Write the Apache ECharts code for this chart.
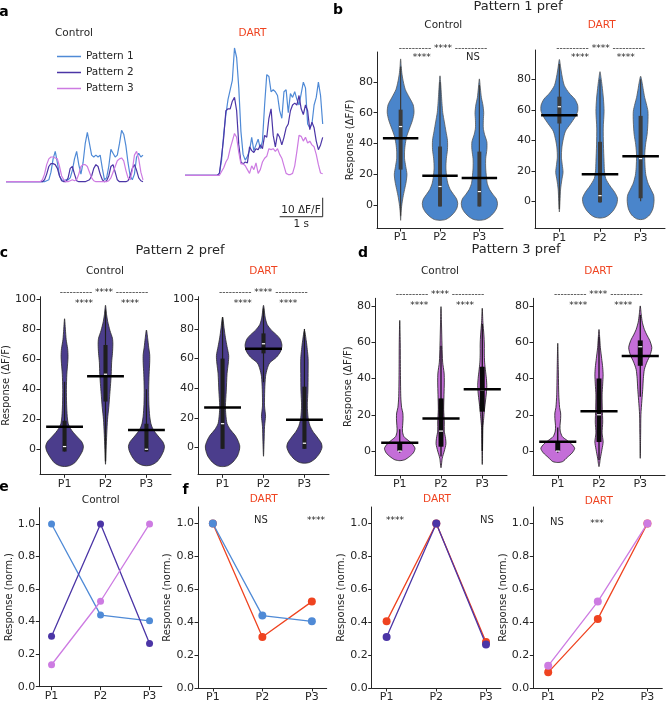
<!DOCTYPE html>
<html>
<head>
<meta charset="utf-8">
<title>Pattern preference</title>
<script src="https://cdn.jsdelivr.net/npm/echarts@6.0.0/dist/echarts.min.js"></script>
<style>
  html, body { margin: 0; padding: 0; background: #fff; }
  #chart { width: 668px; height: 701px; }
</style>
</head>
<body>
<div id="chart"></div>
<script>
// ---------- values ----------
const cats = ['P1', 'P2', 'P3']
const traceStep = 0.05 // seconds per sample in panel a

// panel a: example traces (ΔF/F)
const ctrlP1 = [0,0,0,0,0,0,0,0,0,0,0,0,0,0,0,0,0,0,0,0.5,1,5,12,16,10,3,1,0.5,1,1,2,6,12,16,9,4,10,20,26,20,14,13,14,13,14,7,1,2,8,17,15,13,14,20,27,25,19,10,3,1,4,13,15,13,14]
const ctrlP2 = [0,0,0,0,0,0,0,0,0,0,0,0,0,0,0,0,0,0,1,4,8,9.5,9.5,9,7,3,0.5,0,0,2,7,8,4,0.5,0,0,0,0,0.5,1,3,7,9,8,4,1,0,0.5,3,8,9,5,1,0,0,0,0,0.5,3,7,9,6,2,0.5,0]
const ctrlP3 = [0,0,0,0,0,0,0,0,0,0,0,0,0,0,0,0,0,1,4,9,12,13,13,12.5,12,8,3,1,0,0,0.5,1,0.5,1,4,8,9,9,8,5,2,0.5,0,0,0,0,0,0,0.5,2,5,8,11,12,12.5,11,6,2,1,6,14,16,12,5,1]
const dartP1 = [0,0,0,0,0,0,0,0,0,0,0,0,0,0,0,0,1,8,22,32,40,45,50,67,62,46,23,11,8,10,13,20,13,16,19,14,18,37,53,52,44,45,44,42,34,30,44,45,33,43,41,44,40,37,43,49,46,27,25,27,37,41,49,42,27]
const dartP2 = [0,0,0,0,0,0,0,0,0,0,0,0,0,0,0,0,1,10,20,34,35,35,39,41,34,16,7,6,7,6.5,15,13,12,14,13.5,16,14,21,20,30,35,21,15,22,20,16,20,25,27,34,37,38,37,42,35,32,37,34,24,28,25,18,13.5,16,20]
const dartP3 = [0,0,0,0,0,0,0,0,0,0,0,0,0,0,0,0,0,2,4,7,9,14,18,22,20,12,6,6,5,3,1,5,3,6.5,1,3,7,9,10,14,13.5,14,12.6,14,11,9,5,1,0.4,0.4,1,5,12.6,21,20.5,18,20,17,18,16,15,11,5.6,1.2,0.8]
const scaleSec = 1
const scaleDff = 10

// violin outlines: [response, half width in category units], bottom to top
const pref1CtrlShape = [
  [[-10,0],[-5,0.01],[0,0.03],[5,0.06],[10,0.1],[15,0.14],[20,0.16],[25,0.13],[30,0.1],[35,0.1],[40,0.12],[45,0.16],[50,0.23],[55,0.3],[60,0.34],[65,0.32],[70,0.22],[75,0.12],[80,0.07],[85,0.035],[90,0.015],[95,0]],
  [[-10,0],[-9.5,0.14],[-8,0.24],[-5,0.36],[-2,0.43],[1,0.45],[4,0.42],[7,0.34],[10,0.26],[14,0.2],[18,0.17],[24,0.15],[30,0.16],[36,0.19],[42,0.19],[48,0.15],[54,0.11],[60,0.07],[66,0.05],[72,0.035],[78,0.02],[84,0]],
  [[-10,0],[-9.5,0.14],[-8,0.25],[-5,0.37],[-2,0.44],[1,0.46],[4,0.43],[7,0.34],[10,0.26],[14,0.2],[18,0.18],[24,0.16],[30,0.16],[36,0.19],[41,0.19],[46,0.13],[50,0.1],[55,0.1],[60,0.11],[65,0.09],[70,0.05],[76,0.025],[82,0]]
]
const pref1DartShape = [
  [[-7,0],[0,0.015],[8,0.03],[14,0.06],[19,0.09],[24,0.07],[29,0.05],[35,0.06],[40,0.09],[46,0.15],[51,0.28],[55,0.38],[59,0.45],[63,0.45],[67,0.38],[71,0.24],[76,0.12],[83,0.06],[88,0.03],[93,0]],
  [[-11,0],[-10.5,0.12],[-9,0.22],[-6,0.33],[-2,0.41],[2,0.43],[6,0.36],[10,0.25],[15,0.14],[20,0.11],[26,0.1],[37,0.085],[48,0.08],[59,0.1],[67,0.085],[76,0.05],[81,0.025],[85,0]],
  [[-12,0],[-11.5,0.1],[-9,0.22],[-5,0.3],[0,0.33],[4,0.32],[8,0.25],[12,0.18],[17,0.13],[22,0.11],[30,0.1],[37,0.12],[44,0.16],[52,0.18],[59,0.18],[64,0.14],[68,0.1],[74,0.06],[78,0.035],[82,0]]
]
const pref2CtrlShape = [
  [[-11.5,0],[-11,0.12],[-9,0.25],[-5,0.36],[-1,0.44],[2,0.46],[5,0.42],[8,0.32],[11,0.22],[14,0.14],[17,0.09],[22,0.065],[30,0.05],[40,0.045],[50,0.055],[57,0.075],[62,0.085],[67,0.075],[73,0.04],[80,0.02],[87,0]],
  [[-10,0],[0,0.015],[10,0.03],[20,0.05],[28,0.08],[35,0.1],[42,0.12],[50,0.14],[58,0.15],[64,0.17],[70,0.18],[74,0.17],[79,0.11],[85,0.055],[90,0.025],[96,0]],
  [[-11,0],[-10.5,0.12],[-8.5,0.25],[-5,0.35],[-1,0.42],[2,0.44],[5,0.4],[8,0.31],[11,0.22],[14,0.15],[17,0.11],[22,0.08],[30,0.06],[40,0.055],[50,0.065],[58,0.08],[63,0.08],[68,0.055],[74,0.03],[79.5,0]]
]
const pref2DartShape = [
  [[-13,0],[-12.5,0.12],[-10,0.25],[-6,0.36],[-2,0.41],[1,0.42],[5,0.37],[8,0.31],[12,0.19],[16,0.11],[22,0.08],[28,0.07],[38,0.09],[50,0.11],[57,0.14],[62,0.15],[68,0.11],[74,0.07],[80,0.04],[88,0]],
  [[-6,0],[5,0.015],[14,0.025],[18,0.04],[21,0.05],[24,0.04],[28,0.025],[39,0.03],[48,0.05],[53,0.09],[57,0.15],[61,0.32],[65,0.42],[69,0.45],[73,0.41],[76,0.32],[79,0.2],[83,0.09],[88,0.04],[96,0]],
  [[-10.7,0],[-10.2,0.12],[-8,0.25],[-4,0.37],[0,0.43],[3,0.41],[7,0.31],[11,0.2],[15,0.13],[20,0.09],[28,0.07],[38,0.085],[50,0.09],[60,0.09],[66,0.07],[72,0.045],[79,0]]
]
const pref3CtrlShape = [
  [[-5.3,0],[-4.8,0.12],[-3,0.24],[-1,0.33],[1.5,0.37],[4,0.3],[6,0.2],[8,0.1],[11,0.065],[14,0.07],[18,0.08],[21,0.075],[24,0.045],[30,0.025],[45,0.016],[60,0.012],[72,0]],
  [[-9.2,0],[-4,0.03],[0,0.08],[4,0.12],[7,0.11],[11,0.08],[16,0.08],[23,0.065],[31,0.073],[38,0.08],[43,0.075],[49,0.04],[58,0.025],[70,0.012],[79.6,0]],
  [[-7.4,0],[5,0.01],[13,0.016],[18,0.035],[22,0.05],[27,0.075],[32,0.1],[36,0.11],[40,0.1],[44,0.08],[49,0.057],[54,0.05],[59,0.05],[64,0.04],[71,0.016],[78.7,0]]
]
const pref3DartShape = [
  [[-6.3,0],[-5.8,0.12],[-3.5,0.23],[-1,0.35],[1.5,0.41],[4,0.33],[6,0.22],[8,0.11],[11,0.06],[14,0.055],[18,0.07],[21,0.07],[24,0.045],[31,0.025],[45,0.014],[59.4,0]],
  [[-8.6,0],[-4,0.033],[1,0.073],[5,0.1],[10,0.075],[16,0.09],[23,0.08],[31,0.075],[37,0.09],[42,0.1],[46,0.09],[51,0.065],[57,0.033],[62,0.018],[67,0]],
  [[-4,0],[10,0.01],[20,0.016],[28,0.04],[34,0.06],[40,0.075],[45,0.1],[49,0.16],[53,0.24],[57,0.28],[61,0.23],[64,0.16],[67,0.1],[71,0.05],[75,0.025],[80,0]]
]

// inner box: [whisker low, q1, median, q3, whisker high]
const pref1CtrlBox = [[-7,23,51,62,90],[-1,-1,12,38,80],[-1,-1,8.7,34.7,78]]
const pref1DartBox = [[-5,51,62,68.6,90],[-1,-0.7,3.7,39,80],[0,2,28,56,80]]
const pref2CtrlBox = [[-1.5,-1.5,1.8,19,45],[-8,31.8,50,69.5,93],[-1.5,-1.5,0,17,40]]
const pref2DartBox = [[-1,-1,16,60,88],[44,63.5,70,77,94],[-1,-1,2.8,41,80]]
const pref3CtrlBox = [[-1,0,0,5,12],[-3,2.4,11,29,58],[0,21.7,33.7,46.5,70]]
const pref3DartBox = [[-1,0,0,5.5,13],[-5,5,20,40,63],[30,47,57.5,61,75]]

// mean (black bar)
const pref1CtrlMean = [43.4, 19, 17.5]
const pref1DartMean = [56.5, 17.7, 29.5]
const pref2CtrlMean = [15, 48.7, 12.9]
const pref2DartMean = [27, 66.7, 18.6]
const pref3CtrlMean = [4.6, 18, 34]
const pref3DartMean = [5.1, 22, 52.4]

// panels e/f: normalized response
const normCtrl1 = [1.0, 0.44, 0.405]
const normCtrl2 = [0.31, 1.0, 0.265]
const normCtrl3 = [0.135, 0.525, 1.0]
const normDart1 = [1.0, 0.31, 0.525]
const normDart2 = [0.405, 1.0, 0.28]
const normDart3 = [0.095, 0.42, 1.0]

const dffTicks80 = [0, 20, 40, 60, 80]
const dffTicks100 = [0, 20, 40, 60, 80, 100]
const normTicks = [0, 0.2, 0.4, 0.6, 0.8, 1]

// ---------- styling ----------
const font = 'DejaVu Sans'
const ink = '#262626'
const red = '#ef4320'
const blue = '#4f8ad6'
const indigo = '#4b35a6'
const orchid = '#cd7be2'

const grids = [
  { left: 6, top: 48.7, width: 137, height: 180.5 },      // a control
  { left: 185, top: 42.3, width: 137.7, height: 180.5 },  // a DART
  { left: 377, top: 52, width: 126, height: 176 },        // b control
  { left: 535, top: 50, width: 130, height: 178.3 },      // b DART
  { left: 40, top: 296.7, width: 131, height: 177.6 },    // c control
  { left: 198, top: 296.7, width: 131, height: 177.6 },   // c DART
  { left: 375, top: 298.3, width: 132, height: 176.7 },   // d control
  { left: 533, top: 298.3, width: 132, height: 176.7 },   // d DART
  { left: 39.3, top: 507.7, width: 122.5, height: 179 },  // e
  { left: 198, top: 507, width: 128.7, height: 181 },     // f1
  { left: 371.7, top: 507, width: 129.2, height: 181 },   // f2
  { left: 533.3, top: 507, width: 129, height: 181 }      // f3
].map(g => Object.assign({ outerBoundsMode: 'none', containLabel: false }, g))

function hiddenX(gi) {
  return { gridIndex: gi, type: 'value', min: 0, max: 3.2, show: false }
}
function hiddenY(gi) {
  return { gridIndex: gi, type: 'value', min: -25, max: 70, show: false }
}
function catX(gi, min, max) {
  return {
    gridIndex: gi, type: 'value', min, max,
    axisLine: { show: true, onZero: false, lineStyle: { color: ink, width: 1 } },
    axisTick: { show: true, customValues: [0, 1, 2], length: 3.5, lineStyle: { color: ink } },
    axisLabel: { customValues: [0, 1, 2], formatter: v => cats[Math.round(v)], color: ink, fontSize: 11, margin: 4, fontFamily: font },
    splitLine: { show: false }
  }
}
function valY(gi, min, max, ticks, fmt, name, nameGap) {
  return {
    gridIndex: gi, type: 'value', min, max,
    axisLine: { show: true, onZero: false, lineStyle: { color: ink, width: 1 } },
    axisTick: { show: true, customValues: ticks, length: 3.5, lineStyle: { color: ink } },
    axisLabel: { customValues: ticks, formatter: fmt, color: ink, fontSize: 11, margin: 4, fontFamily: font },
    splitLine: { show: false },
    name, nameLocation: 'middle', nameGap,
    nameTextStyle: { fontSize: 10, color: ink, fontFamily: font }
  }
}
const intFmt = v => String(v)
const normFmt = v => v.toFixed(1)
const dffName = 'Response (ΔF/F)'
const normName = 'Response (norm.)'

const xAxis = [
  hiddenX(0), hiddenX(1),
  catX(2, -0.6, 2.6), catX(3, -0.6, 2.6), catX(4, -0.6, 2.6),
  catX(5, -0.6, 2.6), catX(6, -0.6, 2.6), catX(7, -0.6, 2.6),
  catX(8, -0.25, 2.25), catX(9, -0.3, 2.3), catX(10, -0.3, 2.3), catX(11, -0.3, 2.3)
]
const yAxis = [
  hiddenY(0), hiddenY(1),
  valY(2, -15, 99.5, dffTicks80, intFmt, dffName, 18),
  valY(3, -17.7, 99.2, dffTicks80, intFmt, '', 0),
  valY(4, -16.7, 101.7, dffTicks100, intFmt, dffName, 24.5),
  valY(5, -18.2, 101.8, dffTicks100, intFmt, '', 0),
  valY(6, -13.2, 84.2, dffTicks80, intFmt, dffName, 19.5),
  valY(7, -13.2, 84.2, dffTicks80, intFmt, '', 0),
  valY(8, 0, 1.1, normTicks, normFmt, normName, 24),
  valY(9, 0, 1.1, normTicks, normFmt, normName, 22),
  valY(10, 0, 1.1, normTicks, normFmt, normName, 24),
  valY(11, 0, 1.1, normTicks, normFmt, normName, 20.5)
]

function trace(gi, name, values, color) {
  return {
    type: 'line', name, xAxisIndex: gi, yAxisIndex: gi,
    data: values.map((v, i) => [i * traceStep, v]),
    symbol: 'none', showSymbol: false, silent: true,
    lineStyle: { color, width: 1.2 }, itemStyle: { color }
  }
}

function violin(gi, shapes, boxes, means, fill, edge, inner, boxHalf) {
  return {
    type: 'custom', xAxisIndex: gi, yAxisIndex: gi, clip: false, silent: true,
    data: means.map((m, i) => [i, m]),
    renderItem(params, api) {
      const i = api.value(0)
      const m = api.value(1)
      const shape = shapes[i]
      const [lo, q1, med, q3, hi] = boxes[i]
      const pt = (x, v) => api.coord([x, v])
      const right = shape.map(([v, w]) => pt(i + w, v))
      const left = shape.slice(1, -1).reverse().map(([v, w]) => pt(i - w, v))
      const b1 = pt(i - boxHalf, q3)
      const b2 = pt(i + boxHalf, q1)
      const top = pt(i, hi)
      const bot = pt(i, lo)
      const md1 = pt(i - boxHalf * 0.8, med)
      const md2 = pt(i + boxHalf * 0.8, med)
      const mL = pt(i - 0.45, m)
      const mR = pt(i + 0.45, m)
      return {
        type: 'group',
        children: [
          { type: 'polygon', shape: { points: right.concat(left), smooth: 0.25 }, style: { fill, stroke: edge, lineWidth: 0.8 } },
          { type: 'line', shape: { x1: top[0], y1: top[1], x2: bot[0], y2: bot[1] }, style: { stroke: inner, lineWidth: 1.2 } },
          { type: 'rect', shape: { x: b1[0], y: b1[1], width: b2[0] - b1[0], height: Math.max(b2[1] - b1[1], 1) }, style: { fill: inner } },
          { type: 'line', shape: { x1: md1[0], y1: md1[1], x2: md2[0], y2: md2[1] }, style: { stroke: '#ffffff', lineWidth: 1.2 } },
          { type: 'line', shape: { x1: mL[0], y1: mL[1], x2: mR[0], y2: mR[1] }, style: { stroke: '#000000', lineWidth: 2.5 } }
        ]
      }
    }
  }
}

function normLine(gi, values, color, size) {
  return {
    type: 'line', xAxisIndex: gi, yAxisIndex: gi,
    data: values.map((v, i) => [i, v]),
    symbol: 'circle', symbolSize: size, showSymbol: true, silent: true,
    lineStyle: { color, width: 1.3 }, itemStyle: { color }
  }
}

const scaleBar = {
  type: 'custom', xAxisIndex: 1, yAxisIndex: 1, clip: false, silent: true,
  data: [[3.2, -21.8]],
  renderItem(params, api) {
    const x = api.value(0), y = api.value(1)
    const c = api.coord([x, y])
    const l = api.coord([x - scaleSec, y])
    const t = api.coord([x, y + scaleDff])
    return {
      type: 'group',
      children: [
        { type: 'polyline', shape: { points: [l, c, t] }, style: { stroke: ink, lineWidth: 1, fill: null } },
        { type: 'text', x: c[0] - 2, y: c[1] - 1, style: { text: scaleDff + ' ΔF/F', fill: ink, fontSize: 10.5, fontFamily: font, align: 'right', verticalAlign: 'bottom' } },
        { type: 'text', x: (l[0] + c[0]) / 2, y: c[1] + 2, style: { text: scaleSec + ' s', fill: ink, fontSize: 10.5, fontFamily: font, align: 'center', verticalAlign: 'top' } }
      ]
    }
  }
}

const series = [
  trace(0, 'Pattern 1', ctrlP1, blue),
  trace(0, 'Pattern 2', ctrlP2, indigo),
  trace(0, 'Pattern 3', ctrlP3, orchid),
  trace(1, 'Pattern 1', dartP1, blue),
  trace(1, 'Pattern 2', dartP2, indigo),
  trace(1, 'Pattern 3', dartP3, orchid),
  scaleBar,
  violin(2, pref1CtrlShape, pref1CtrlBox, pref1CtrlMean, '#4a85cb', '#555555', '#3c3c3c', 0.05),
  violin(3, pref1DartShape, pref1DartBox, pref1DartMean, '#4a85cb', '#555555', '#3c3c3c', 0.05),
  violin(4, pref2CtrlShape, pref2CtrlBox, pref2CtrlMean, '#4b3d8c', '#2a2a2a', '#1e1e1e', 0.05),
  violin(5, pref2DartShape, pref2DartBox, pref2DartMean, '#4b3d8c', '#2a2a2a', '#1e1e1e', 0.05),
  violin(6, pref3CtrlShape, pref3CtrlBox, pref3CtrlMean, '#c46ed8', '#1a1a1a', '#0a0a0a', 0.06),
  violin(7, pref3DartShape, pref3DartBox, pref3DartMean, '#c46ed8', '#1a1a1a', '#0a0a0a', 0.06),
  normLine(8, normCtrl1, blue, 7),
  normLine(8, normCtrl2, indigo, 7),
  normLine(8, normCtrl3, orchid, 7),
  normLine(9, normDart1, red, 8),
  normLine(9, normCtrl1, blue, 8),
  normLine(10, normDart2, red, 8),
  normLine(10, normCtrl2, indigo, 8),
  normLine(11, normDart3, red, 8),
  normLine(11, normCtrl3, orchid, 8)
]

// ---------- text annotations ----------
function txt(text, x, y, size, color, weight) {
  return {
    type: 'text', x, y, silent: true,
    style: { text, fill: color || ink, fontSize: size || 10.5, fontFamily: font, fontWeight: weight || 'normal', align: 'center', verticalAlign: 'middle' }
  }
}
const sigRow = '---------- **** ----------'
const graphic = [
  txt('a', 4, 12, 14, '#000', 'bold'),
  txt('b', 338, 10, 14, '#000', 'bold'),
  txt('c', 4, 253, 14, '#000', 'bold'),
  txt('d', 363, 253, 14, '#000', 'bold'),
  txt('e', 4, 487.5, 14, '#000', 'bold'),
  txt('f', 185.5, 490, 14, '#000', 'bold'),

  txt('Control', 74, 33.5), txt('DART', 252.5, 33.5, 10.5, red),

  txt('Pattern 1 pref', 518, 7, 13),
  txt('Control', 443.3, 25), txt('DART', 601.7, 25, 10.5, red),
  txt('Pattern 2 pref', 180, 251, 13),
  txt('Control', 105, 271), txt('DART', 263.3, 271, 10.5, red),
  txt('Pattern 3 pref', 516, 250, 13),
  txt('Control', 440, 271.7), txt('DART', 598.3, 271.7, 10.5, red),

  txt(sigRow, 443, 49, 9), txt('****', 421.7, 58, 9), txt('NS', 473, 57.7, 10),
  txt(sigRow, 600.7, 49, 9), txt('****', 580, 58, 9), txt('****', 625.7, 58, 9),
  txt(sigRow, 104, 292.7, 9), txt('****', 84, 303.5, 9), txt('****', 130, 303.5, 9),
  txt(sigRow, 263.3, 292.7, 9), txt('****', 242.7, 303.5, 9), txt('****', 288.3, 303.5, 9),
  txt(sigRow, 440, 294.3, 9), txt('****', 419.3, 306, 9), txt('****', 465, 306, 9),
  txt(sigRow, 598.3, 294.3, 9), txt('****', 578.3, 306, 9), txt('****', 623.3, 306, 9),

  txt('Control', 100.8, 500),
  txt('DART', 263.7, 499.3, 10.5, red),
  txt('DART', 437, 499.3, 10.5, red),
  txt('DART', 598.8, 501, 10.5, red),
  txt('NS', 261, 520, 10), txt('****', 316, 521, 9),
  txt('****', 395, 521, 9), txt('NS', 487, 520, 10),
  txt('NS', 557, 522, 10), txt('***', 597, 524, 9)
]

const chart = echarts.init(document.getElementById('chart'), null, { renderer: 'canvas' })
chart.setOption({
  animation: false,
  backgroundColor: '#ffffff',
  textStyle: { fontFamily: font },
  legend: {
    data: ['Pattern 1', 'Pattern 2', 'Pattern 3'],
    orient: 'vertical', left: 52, top: 45,
    icon: 'rect', itemWidth: 24, itemHeight: 1.5, itemGap: 3,
    selectedMode: false,
    textStyle: { fontSize: 10.5, lineHeight: 13, color: ink, fontFamily: font }
  },
  grid: grids,
  xAxis,
  yAxis,
  series,
  graphic
})
</script>
</body>
</html>
